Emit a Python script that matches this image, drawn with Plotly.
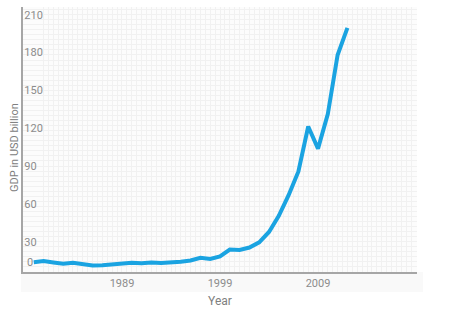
import plotly.graph_objects as go

years = list(range(1980, 2013))
gdp = [7.8, 8.7, 7.6, 6.5, 7.4, 6.2, 5.1, 5.4, 6.0, 6.5,
       7.4, 7.0, 7.6, 7.2, 7.4, 8.1, 9.1, 11.3, 10.3, 12.4,
       17.8, 17.5, 19.4, 23.5, 31.7, 44.5, 60.9, 79.7, 115.3, 97.8,
       125.1, 172.0, 193.5]

x_ticks = [1989, 1999, 2009]
y_ticks = [30, 60, 90, 120, 150, 180, 210]

FONT = "Roboto"
GRAY = "#8c8c8c"

fig = go.Figure()
fig.add_trace(go.Scatter(
    x=years, y=gdp, mode="lines",
    line=dict(color="#1aa3e1", width=4, shape="linear"),
    hoverinfo="skip", showlegend=False,
))

fig.update_layout(
    width=450, height=313,
    margin=dict(l=23, r=33, t=7, b=41),
    paper_bgcolor="white",
    plot_bgcolor="#fcfcfc",
    font=dict(family=FONT, size=11, color=GRAY),
    xaxis=dict(
        range=[1978.9, 2019.1],
        tickmode="array", tickvals=x_ticks,
        ticktext=[str(v) for v in x_ticks],
        showgrid=False, zeroline=False,
        showline=True, linecolor="#a6a6a6", linewidth=1.5,
        ticks="", tickfont=dict(family=FONT, size=11, color=GRAY),
        title=dict(text="Year", standoff=8, font=dict(family=FONT, size=12, color="#808080")),
        minor=dict(showgrid=True, gridcolor="#f1f1f1", gridwidth=1, tick0=1979, dtick=0.5),
    ),
    yaxis=dict(
        range=[0, 210],
        tickmode="array", tickvals=y_ticks,
        ticktext=[str(v) for v in y_ticks],
        ticklabelposition="inside bottom",
        showgrid=False, zeroline=False,
        showline=True, linecolor="#a6a6a6", linewidth=1.5,
        ticks="", tickfont=dict(family=FONT, size=11, color=GRAY),
        minor=dict(showgrid=True, gridcolor="#f1f1f1", gridwidth=1, tick0=0, dtick=4),
    ),
    shapes=[dict(
        type="rect", xref="paper", yref="paper",
        x0=-0.005, x1=1.015, y0=-0.075, y1=0,
        fillcolor="#f9f9f9", line=dict(width=0), layer="below",
    )],
    annotations=[
        dict(
            text="0", xref="paper", yref="y", x=0, y=0,
            xanchor="left", yanchor="bottom", xshift=2, yshift=1,
            showarrow=False, font=dict(family=FONT, size=11, color=GRAY),
        ),
        dict(
            text="GDP in USD billion", textangle=-90,
            xref="paper", yref="paper", x=0, y=0.47,
            xanchor="right", yanchor="middle", xshift=0,
            showarrow=False, font=dict(family=FONT, size=11, color="#808080"),
        ),
    ],
)

fig.write_html("out.html")
